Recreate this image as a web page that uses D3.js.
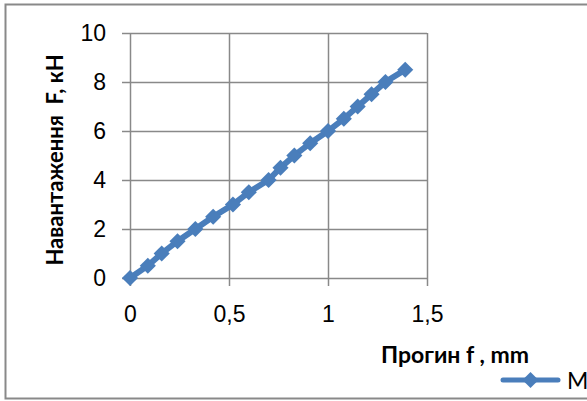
<!DOCTYPE html>
<html>
<head>
<meta charset="utf-8">
<script src="https://cdn.jsdelivr.net/npm/d3@7"></script>
<style>
  body { margin: 0; background: #fff; }
  svg { display: block; font-family: Lato, "Liberation Sans", sans-serif; }
</style>
</head>
<body>
<div id="chart"></div>
<script>
// deflection (mm) and load (kN)
const deflection = [0, 0.09, 0.16, 0.24, 0.33, 0.42, 0.52, 0.60, 0.70, 0.76, 0.83, 0.91, 1.00, 1.08, 1.15, 1.22, 1.29, 1.39];
const load = [0, 0.5, 1, 1.5, 2, 2.5, 3, 3.5, 4, 4.5, 5, 5.5, 6, 6.5, 7, 7.5, 8, 8.5];
const xTicks = [0, 0.5, 1, 1.5];
const yTicks = [0, 2, 4, 6, 8, 10];
const seriesName = 'M';

const width = 587, height = 401;
const blue = '#4a7ebb', grey = '#898989';

const svg = d3.select('#chart').append('svg')
    .attr('width', width)
    .attr('height', height);

// outer chart border (right edge runs off the picture)
svg.append('rect')
    .attr('x', 5.5).attr('y', 4.5)
    .attr('width', 620).attr('height', 394)
    .attr('fill', 'none')
    .attr('stroke', grey)
    .attr('stroke-width', 2);

const x = d3.scaleLinear().domain([0, 1.5]).range([130, 427]);
const y = d3.scaleLinear().domain([0, 10]).range([278, 33]);

const fmt = d => String(d).replace('.', ',');

// gridlines
svg.append('g')
    .attr('transform', 'translate(0,278)')
    .call(d3.axisBottom(x).tickValues(xTicks).tickSize(-(278 - 33)).tickFormat(''))
    .call(g => g.select('.domain').remove())
    .call(g => g.selectAll('line').attr('stroke', grey).attr('stroke-width', 1.5));
svg.append('g')
    .attr('transform', 'translate(130,0)')
    .call(d3.axisLeft(y).tickValues(yTicks).tickSize(-(427 - 130)).tickFormat(''))
    .call(g => g.select('.domain').remove())
    .call(g => g.selectAll('line').attr('stroke', grey).attr('stroke-width', 1.5));

// outward tick marks + labels
svg.append('g')
    .attr('transform', 'translate(0,278)')
    .call(d3.axisBottom(x).tickValues(xTicks).tickSize(8).tickPadding(20).tickFormat(fmt))
    .call(g => g.select('.domain').remove())
    .call(g => g.selectAll('line').attr('stroke', grey).attr('stroke-width', 1.5))
    .call(g => g.selectAll('text').attr('font-size', 23).attr('fill', '#000').attr('font-family', null));
svg.append('g')
    .attr('transform', 'translate(130,0)')
    .call(d3.axisLeft(y).tickValues(yTicks).tickSize(8).tickPadding(16).tickFormat(fmt))
    .call(g => g.select('.domain').remove())
    .call(g => g.selectAll('line').attr('stroke', grey).attr('stroke-width', 1.5))
    .call(g => g.selectAll('text').attr('font-size', 23).attr('fill', '#000').attr('font-family', null));

// series
const pts = deflection.map((d, i) => [d, load[i]]);
svg.append('path')
    .datum(pts)
    .attr('fill', 'none')
    .attr('stroke', blue)
    .attr('stroke-width', 6)
    .attr('d', d3.line().x(d => x(d[0])).y(d => y(d[1])));

const marker = d3.symbol().type(d3.symbolSquare).size(130);
svg.append('g').selectAll('path')
    .data(pts)
    .join('path')
    .attr('transform', d => `translate(${x(d[0])},${y(d[1])}) rotate(45)`)
    .attr('d', marker)
    .attr('fill', blue);

// axis titles
svg.append('text')
    .attr('x', 455).attr('y', 363)
    .attr('text-anchor', 'middle')
    .attr('font-size', 23)
    .attr('font-weight', 'bold')
    .attr('xml:space', 'preserve')
    .text('Прогин f , mm');

svg.append('text')
    .attr('transform', 'translate(63,160) rotate(-90)')
    .attr('text-anchor', 'middle')
    .attr('font-size', 22)
    .attr('font-weight', 'bold')
    .attr('xml:space', 'preserve')
    .text('Навантаження  F, кН');

// legend
const leg = svg.append('g').attr('transform', 'translate(503,380)');
leg.append('line')
    .attr('x1', 0).attr('x2', 55)
    .attr('stroke', blue).attr('stroke-width', 5)
    .attr('stroke-linecap', 'round');
leg.append('path')
    .attr('transform', 'translate(27.5,0) rotate(45)')
    .attr('d', marker)
    .attr('fill', blue);
leg.append('text')
    .attr('x', 64).attr('y', 9)
    .attr('font-size', 23)
    .text(seriesName);
</script>
</body>
</html>
